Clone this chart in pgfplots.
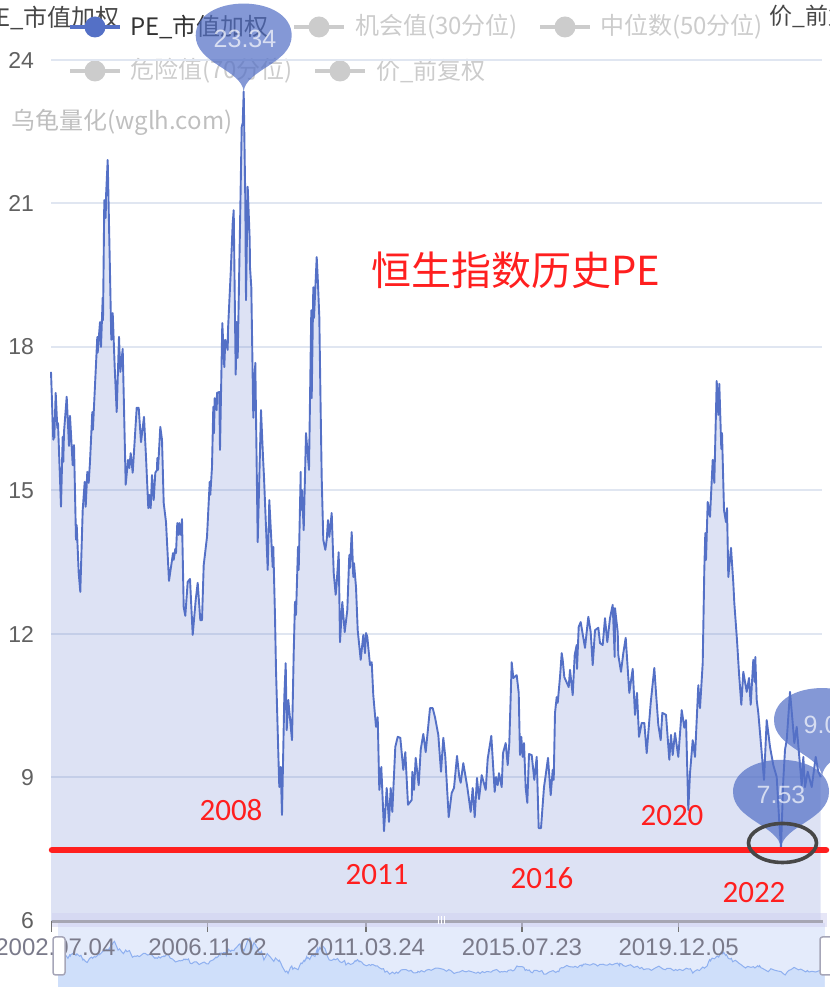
\documentclass[border=0pt]{standalone}
\usepackage{fontspec}
\usepackage{pgfplots}
\usepackage{pgfplotstable}
\pgfplotsset{compat=1.18}
\setmainfont{Liberation Sans}
\newfontfamily\cjk{Noto Sans CJK SC}
\newfontfamily\cali{Carlito}
\definecolor{pe}{HTML}{5470C6}
\definecolor{gridc}{HTML}{E0E6F1}
\definecolor{leg}{HTML}{CCCCCC}
\definecolor{redl}{HTML}{FF1F1F}
\definecolor{slbg}{HTML}{E4EBFB}
\definecolor{slfill}{HTML}{CFDFFA}
\definecolor{slline}{HTML}{8FB0F0}
\newcommand{\fs}[1]{\fontsize{#1bp}{#1bp}\selectfont}
\pgfdeclareplotmark{pin}{%
  \pgfpathmoveto{\pgfpoint{0bp}{0bp}}%
  \pgfpathcurveto{\pgfpoint{-2bp}{22bp}}{\pgfpoint{-48bp}{28bp}}{\pgfpoint{-48bp}{56bp}}%
  \pgfpathcurveto{\pgfpoint{-48bp}{76bp}}{\pgfpoint{-26bp}{88bp}}{\pgfpoint{0bp}{88bp}}%
  \pgfpathcurveto{\pgfpoint{26bp}{88bp}}{\pgfpoint{48bp}{76bp}}{\pgfpoint{48bp}{56bp}}%
  \pgfpathcurveto{\pgfpoint{48bp}{28bp}}{\pgfpoint{2bp}{22bp}}{\pgfpoint{0bp}{0bp}}%
  \pgfpathclose\pgfusepathqfill}
% pos = horizontal position along the date axis, pe = PE value
\pgfplotstableread{
pos pe
51 17.48
53.3 16.06
53.7 16.47
54.3 16.10
55.7 17.04
57.3 16.31
58 16.41
61 14.66
62.7 16.12
63.3 15.60
64 16.22
66.7 16.96
69 15.93
70 16.56
72.7 15.53
74 15.95
76 13.97
76.7 14.28
78.7 13.28
80.3 12.88
82.7 14.59
84.7 15.18
85.7 14.66
87.3 15.39
88.7 15.16
90 15.60
92.3 16.64
92.9 16.27
97.3 18.21
97.7 17.88
100 18.52
101 18.00
102.7 19.03
103 18.56
104.3 21.07
105.7 20.70
106 21.14
107.7 21.91
110 19.55
111.3 18.15
112.7 18.71
114.7 17.58
116.7 16.64
119 18.21
120.3 17.48
122.7 17.96
125.7 15.12
128 15.64
129.3 15.47
130.7 15.78
132.7 15.37
136.7 16.73
138.7 16.73
141 16.01
144 16.54
146 15.70
148.3 14.63
149.3 14.91
150.7 14.63
152 15.32
153.7 14.80
155.3 15.37
157 15.43
157.3 15.68
158 15.43
160.3 16.33
162 16.06
163.7 14.74
166 14.34
169 13.11
173 13.69
173.7 13.55
175.3 13.78
176 13.69
177.3 14.32
178.7 14.07
179.3 14.32
181 14.07
182 14.40
183.7 12.56
185.3 12.38
187.7 13.09
190 13.15
192.7 11.98
195.7 12.71
197.7 13.07
200.3 12.29
202 12.29
203.7 13.44
207 14.03
209.7 15.18
210.3 14.91
212 15.49
213.3 16.75
214 16.20
214.7 16.93
216.7 16.68
217 17.04
219.3 17.06
220 15.85
222.3 18.50
224.3 17.58
225.3 18.15
227.7 17.94
228 18.36
230.7 19.55
232.7 20.59
233.7 20.86
235.7 17.42
236.7 18.52
237.7 17.77
240 20.51
241.7 22.60
242.7 22.68
243.7 23.34
245.3 21.07
246 18.98
247.7 21.35
249.7 20.24
250 19.67
251.3 19.25
253.3 16.52
255.3 17.67
257.7 13.92
261 16.68
263 15.70
264 15.28
267.7 13.34
269.3 14.80
272.7 13.40
273.3 13.82
275 12.36
276 11.25
278.7 9.22
279.3 8.80
280.7 9.22
282 8.22
284.3 10.68
285.7 11.39
286.7 9.99
288.3 10.62
292 9.78
293.7 11.60
295 12.67
296 12.40
298 13.82
298.7 13.34
300.7 15.39
300.9 14.59
302 15.01
303.7 14.17
306 16.20
309 15.43
311.3 18.77
311.7 16.93
313.3 19.25
314 18.61
316.7 19.88
317.7 19.46
319.3 18.63
320.7 16.62
321.7 15.26
323.3 13.97
325.3 13.76
326.7 13.97
328 14.38
329.3 14.03
331.7 14.53
333.7 13.28
335.7 12.82
336.7 13.07
338.7 13.71
340 11.83
342.3 12.67
344.7 12.04
347.3 12.50
349.3 13.65
350 13.38
351.7 14.13
353.3 13.19
354 13.48
356 12.98
357.7 12.08
360.7 11.46
363.3 11.98
365 11.60
366 12.02
367.3 11.94
370 11.35
371.7 11.41
373.3 10.72
376 10.06
377.7 10.26
379.3 8.74
381.3 9.22
384 7.88
386.7 8.78
389 8.07
390.7 8.78
392.3 8.28
395.3 9.64
397.7 9.85
400.3 9.83
403.3 9.16
405.3 9.53
408 8.43
411.7 8.53
412.3 9.12
414 8.74
415.7 9.41
418.7 8.84
420.7 9.58
423.3 9.91
425.7 9.53
430 10.45
432.7 10.45
435 10.26
438.3 9.89
441 9.12
443.3 9.83
445.3 9.43
448.7 8.17
451.7 8.68
454 8.78
457 9.45
459.3 9.01
460.7 8.89
463.3 9.30
467.3 8.80
470.7 8.28
472.7 8.78
474.7 8.17
477 8.99
479 8.55
481.7 9.05
485.7 8.74
487.7 9.39
491.3 9.87
494.7 8.70
496 9.01
497.7 8.84
499 9.09
501.7 8.80
503 9.51
505.7 9.72
507.7 9.26
509.3 9.72
511.7 11.41
513.3 11.08
516.7 11.14
518.7 10.77
520 9.47
521.3 9.85
522.7 9.43
524 9.72
525.7 8.78
527.3 8.47
529 9.49
531.7 9.47
534.3 8.95
536.7 9.43
538.7 7.94
541 7.94
542.3 8.32
544 8.80
545.7 9.05
548 9.41
550.7 8.63
552.7 9.16
553.7 8.95
555 10.35
556.7 10.68
557.7 10.56
560 11.10
561.7 11.60
562.7 11.46
564.3 11.10
568.7 10.89
570 11.25
572.7 10.72
574.7 11.56
576.7 11.77
577 11.27
578.7 12.15
580.7 12.25
585 11.71
588.3 12.36
590.7 12.04
592.7 11.35
595 12.08
598.3 12.13
600 11.81
602.7 11.77
605 12.33
607.3 11.83
610 12.33
612.7 12.61
614.7 11.52
615 12.54
617.7 12.04
618.3 11.56
621 11.21
623.3 11.60
625.7 11.92
629.3 10.77
632.7 11.27
635 10.31
637 10.77
639 9.85
641.7 10.14
644.3 10.14
646.7 9.51
650.7 10.56
654.3 11.29
656 10.77
658.3 10.10
660.7 9.78
662.3 10.35
666 10.31
669.3 9.37
671 9.89
672.7 9.47
675 9.93
678.3 9.43
681.7 10.41
684.3 10.04
686 10.20
688.3 8.32
690 9.09
692.7 9.78
695 9.43
698.3 10.93
700 10.45
702.7 11.39
704.3 13.34
705.3 14.11
706 13.55
707.7 14.76
710 14.45
712.7 15.64
714.3 15.16
716.7 17.29
718.3 16.58
719.3 17.23
721.3 15.87
722 16.20
724 14.59
726 14.34
727 14.63
728.3 13.19
731 13.80
733.3 13.07
734.3 12.65
737 11.87
739 11.18
741.3 10.52
743.3 11.21
746.7 10.79
749 11.08
750.7 10.52
753.3 11.46
754.7 11.00
755.3 11.52
756.7 10.62
758.3 10.35
764 8.95
766.7 10.20
770 9.64
773.3 9.26
776.7 9.01
779.3 8.05
781 7.53
783.3 8.95
785 9.58
786.7 9.78
790 10.79
792.7 10.14
794.3 9.72
796.7 10.06
801.7 8.84
803.3 9.43
805 8.80
807.7 9.12
811.7 8.80
815.7 9.43
818.3 9.12
820.7 9.01
}\pedata
\begin{document}
\begin{tikzpicture}
\useasboundingbox (0,0) rectangle (830bp,987bp);
\clip (0,0) rectangle (830bp,987bp);
% header text, legend, slider background (pixel coordinates from top left)
\begin{scope}[shift={(0bp,987bp)},x=1bp,y=-1bp]
  \node[anchor=east,inner sep=0,text=black!72] at (120,18) {\cjk\fs{24}PE\_市值加权};
  \node[anchor=west,inner sep=0,text=black!72] at (769,16) {\cjk\fs{23}价\_前复权};
  \node[anchor=west,inner sep=0,text=black!25] at (11,122) {\cjk\fs{24}乌龟量化(wglh.com)};
  \foreach \cx/\cy/\cc in {95/27/pe,319/27/leg,565/27/leg,95/71/leg,340/71/leg}{
    \draw[\cc,line width=4.5bp] (\cx-25,\cy)--(\cx+25,\cy);
    \fill[\cc] (\cx,\cy) circle (10.5bp);
  }
  \node[anchor=west,inner sep=0,text=black!80] at (130,27) {\cjk\fs{24}PE\_市值加权};
  \node[anchor=west,inner sep=0,text=leg] at (355,27) {\cjk\fs{24}机会值(30分位)};
  \node[anchor=west,inner sep=0,text=leg] at (600,27) {\cjk\fs{24}中位数(50分位)};
  \node[anchor=west,inner sep=0,text=leg] at (130,71) {\cjk\fs{24}危险值(70分位)};
  \node[anchor=west,inner sep=0,text=leg] at (376,71) {\cjk\fs{24}价\_前复权};
  \fill[slbg] (58,923) rectangle (825,987);
\end{scope}
% overview strip
\begin{axis}[at={(58bp,0bp)},anchor=south west,scale only axis,width=767bp,height=64bp,
  xmin=51,xmax=821,ymin=2.40,ymax=29.75,hide axis,clip=true]
  \addplot[draw=none,fill=slfill] table[x=pos,y=pe]{\pedata} \closedcycle;
  \addplot[draw=slline,line width=1bp] table[x=pos,y=pe]{\pedata};
\end{axis}
% main chart
\begin{axis}[at={(51.4bp,66bp)},anchor=south west,scale only axis,width=770.6bp,height=861bp,
  xmin=51.4,xmax=822,ymin=6,ymax=24,clip=false,
  axis line style={draw=none},
  ytick={6,9,12,15,18,21,24},ymajorgrids=true,
  grid style={gridc,line width=2bp},
  xtick={51.4,207.5,365.8,522,678.6},
  xticklabels={\hspace*{8bp}2002.07.04,2006.11.02,2011.03.24,2015.07.23,2019.12.05},
  xtick pos=lower,ytick pos=left,tick align=outside,
  major tick length=11bp,
  xtick style={draw=black!55,line width=1.5bp},
  ytick style={draw=none},
  /pgf/number format/assume math mode=true,
  yticklabel style={font=\fs{23},text=black!62,xshift=-3bp},
  xticklabel style={font=\fs{24},text=blue!12!black!52,yshift=-3bp}]
  \addplot[draw=none,fill=pe,fill opacity=0.2] table[x=pos,y=pe]{\pedata} \closedcycle;
  \addplot[draw=pe,line width=1.9bp,line join=round] table[x=pos,y=pe]{\pedata};
  \addplot[only marks,mark=pin,draw=none,fill=pe,mark options={draw=none,fill=pe,fill opacity=0.72}]
    coordinates {(243.7,23.34)};
  \addplot[only marks,mark=pin,draw=none,fill=pe,mark options={draw=none,fill=pe,fill opacity=0.72}]
    coordinates {(822,9.03)};
  \addplot[only marks,mark=pin,draw=none,fill=pe,mark options={draw=none,fill=pe,fill opacity=0.72}]
    coordinates {(781,7.53)};
\end{axis}
% annotations
\begin{scope}[shift={(0bp,987bp)},x=1bp,y=-1bp]
  \node[text=white,opacity=0.68,inner sep=0] at (245,39) {\fs{25}23.34};
  \node[text=white,opacity=0.68,inner sep=0] at (828,725) {\fs{25}9.03};
  \node[text=white,opacity=0.68,inner sep=0] at (781,795) {\fs{25}7.53};
  \fill[black!30!blue!18!white,opacity=0.55] (52,913) rectangle (827,927);
  \draw[blue!15!black!35,line width=3bp] (52,922)--(823,922);
  \foreach \hx in {438,441,444}{\draw[white,line width=1bp] (\hx,916)--(\hx,924);}
  \draw[redl,line width=6.5bp,line cap=round] (52,850)--(826,850);
  \draw[black!72,line width=3.6bp] (782.5,843) ellipse (34 and 19.5);
  \node[text=redl,inner sep=0] at (516,270) {\cjk\fs{40}恒生指数历史PE};
  \node[text=redl,inner sep=0] at (231,810) {\cali\fs{31}2008};
  \node[text=redl,inner sep=0] at (377,875) {\cali\fs{31}2011};
  \node[text=redl,inner sep=0] at (542,878) {\cali\fs{31}2016};
  \node[text=redl,inner sep=0] at (672,816) {\cali\fs{31}2020};
  \node[text=redl,inner sep=0] at (754,893) {\cali\fs{31}2022};
  \foreach \hx/\hw in {53/12,820/15}{
    \draw[rounded corners=2.5bp,fill=white,draw=blue!20!black!35,line width=1.5bp]
      (\hx,937) rectangle (\hx+\hw,975);
  }
\end{scope}
\end{tikzpicture}
\end{document}
